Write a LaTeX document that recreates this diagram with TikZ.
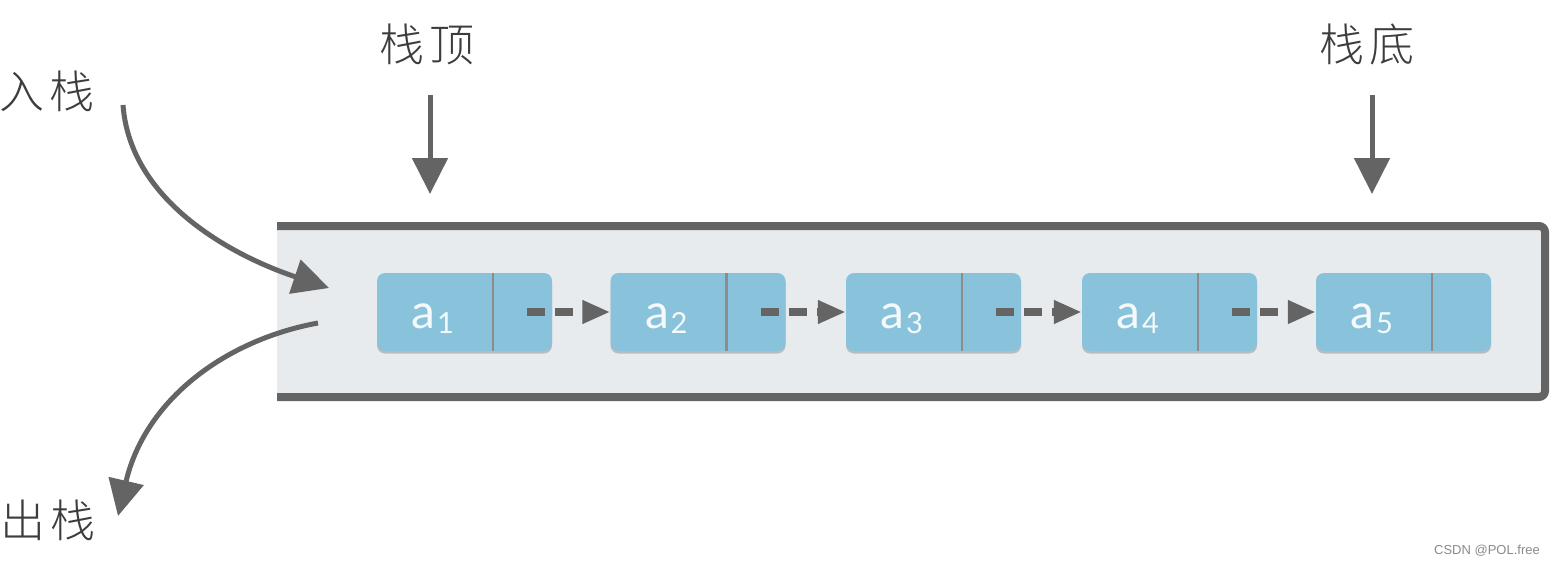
\documentclass[tikz,border=0pt]{standalone}
\usepackage{fontspec}
\newfontfamily\cjk{Noto Sans CJK SC Light}
\newfontfamily\labfont{Lato}
\newfontfamily\wmfont{Liberation Sans}
\usetikzlibrary{arrows.meta,calc,shadows}
\definecolor{edgegray}{HTML}{646464}
\definecolor{boxfill}{HTML}{E8EBEE}
\definecolor{cellblue}{HTML}{89C3DB}
\definecolor{divgray}{HTML}{8C8C8C}
\definecolor{textdark}{HTML}{3C3C3C}
\definecolor{labwhite}{HTML}{F4F9FB}
\definecolor{wmgray}{HTML}{8A8A8A}
\newcommand\labtext[1]{{\fontsize{48}{48}\selectfont a}\hspace{1.5pt}{\fontsize{29}{29}\selectfont\raisebox{-5pt}{#1}}}
\newcommand\cjkpair[2]{#1\hspace{5pt}#2}
\tikzset{
  cjklabel/.style={font=\cjk\fontsize{45}{45}\selectfont, text=textdark, inner sep=0pt},
  cell/.style={fill=cellblue, rounded corners=8pt, minimum width=175pt, minimum height=78pt, inner sep=0pt,
    drop shadow={shadow xshift=0pt, shadow yshift=-2.5pt, opacity=0.35, fill=black!60}},
  lab/.style={font=\labfont, text=labwhite, inner sep=0pt, anchor=base},
  bigarrow/.style={draw=edgegray, line width=5pt, -{Triangle[width=35pt,length=36pt]}},
  linkarrow/.style={draw=edgegray, line width=8pt, dash pattern=on 18pt off 10pt, -{Triangle[width=22pt,length=28pt]}},
  divider/.style={draw=divgray, line width=2.5pt},
  frame/.style={draw=edgegray, line width=8pt, rounded corners=6pt},
}
\begin{document}
\begin{tikzpicture}[x=1pt,y=-1pt]
\useasboundingbox[fill=white] (0,0) rectangle (1553,565);

% container
\fill[boxfill] (277,226) rectangle (1545,397);
\draw[frame] (277,226) -- (1545,226) -- (1545,397) -- (277,397);

% labels
\node[cjklabel] (push) at (47,91) {\cjkpair{入}{栈}};
\node[cjklabel] (pop) at (48,520) {\cjkpair{出}{栈}};
\node[cjklabel] (top) at (427,44) {\cjkpair{栈}{顶}};
\node[cjklabel] (bottom) at (1367,44) {\cjkpair{栈}{底}};

% cells
\foreach \i/\cx in {1/464.5, 2/698, 3/933.5, 4/1169.5, 5/1403.5}{
  \node[cell] (a\i) at (\cx,312) {};
  \draw[divider] ($(a\i.north west)+(116,0)$) -- ($(a\i.south west)+(116,0)$);
  \node[lab] (a\i t) at ($(a\i.west)+(56,16)$) {\labtext{\i}};
}

% links
\foreach \i/\j in {1/2, 2/3, 3/4, 4/5}{
  \draw[linkarrow] ($(a\i.east)+(-25,0)$) -- (a\j.west);
}

% pointer arrows
\coordinate (topS) at (430,95);
\coordinate (topE) at (430,194);
\coordinate (botS) at (1372,95);
\coordinate (botE) at (1372,194);
\draw[bigarrow] (topS) -- (topE);
\draw[bigarrow] (botS) -- (botE);

% push / pop arrows
\coordinate (inS) at (123,105);
\coordinate (inE) at (329,288);
\coordinate (outS) at (318,323);
\coordinate (outE) at (118,516);
\draw[bigarrow] (inS) .. controls (130,200) and (230,255) .. (inE);
\draw[bigarrow] (outS) .. controls (225,340) and (145,400) .. (outE);

% watermark
\node[font=\wmfont\fontsize{13}{13}\selectfont, text=wmgray, inner sep=0pt] (wm) at (1487,551) {CSDN @POL.free};
\end{tikzpicture}
\end{document}
